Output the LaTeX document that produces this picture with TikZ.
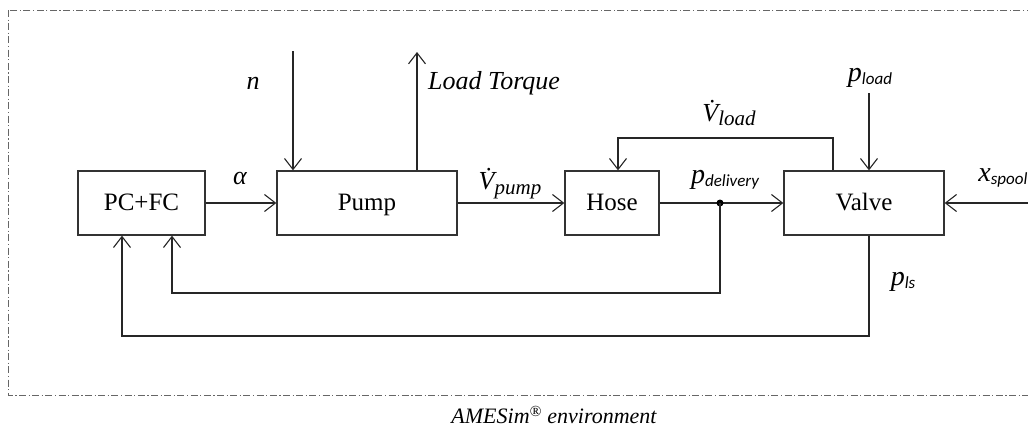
\documentclass[tikz,border=0pt]{standalone}
\usepackage{fontspec}
\setmainfont{Liberation Serif}
\setsansfont{Carlito}
\usetikzlibrary{arrows.meta}
\newcommand{\sublab}[2]{{\itshape #1}\raisebox{-0.25ex}{\sffamily\itshape\fontsize{17}{17}\selectfont #2}}
\newcommand{\flowlab}[1]{\.{V}\raisebox{-0.4ex}{\fontsize{21}{21}\selectfont #1}}
\tikzset{
  bdblock/.style={draw=black!80, line width=1.3pt, minimum height=64pt, inner sep=0pt, text height=18pt, text depth=4pt, font=\fontsize{25}{30}\selectfont},
  bdline/.style={line width=1.1pt, draw=black!85, -{Straight Barb[length=11pt,width=17pt,line width=1.1pt]}},
  bdframe/.style={line width=1pt, draw=black!60, dash pattern=on 7pt off 2.5pt on 1.2pt off 2.5pt},
  bdlabel/.style={inner sep=0pt, font=\fontsize{26}{30}\selectfont\itshape},
  bdsub/.style={inner sep=0pt, font=\fontsize{28}{30}\selectfont},
}

\begin{document}
\begin{tikzpicture}[x=1pt,y=-1pt]
\useasboundingbox (0,0) rectangle (1028,429);
\clip (0,0) rectangle (1028,429);
\draw[bdframe] (8,10) rectangle (1040,395);
\node[bdblock, minimum width=127pt] (pcfc) at (141.5,203) {PC+FC};
\node[bdblock, minimum width=180pt] (pump) at (367,203) {Pump};
\node[bdblock, minimum width=94pt] (hose) at (612,203) {Hose};
\node[bdblock, minimum width=160pt] (valve) at (864,203) {Valve};
\coordinate (junc) at (720,203);
\coordinate (nsrc) at (293,51);
\coordinate (tqend) at (417,52);
\coordinate (plsrc) at (869,93);
\coordinate (xssrc) at (1028,203);
\coordinate (vlv) at (833,138);
\coordinate (vlh) at (618,138);
\coordinate (fbin) at (172,293);
\coordinate (fbout) at (122,336);
\draw[bdline] (pcfc) -- (pump);
\draw[bdline] (pump) -- (hose);
\draw[bdline] (hose) -- (valve);
\fill (junc) circle (3.5pt);
\draw[bdline] (nsrc) -- (nsrc |- pump.north);
\draw[bdline] (tqend |- pump.north) -- (tqend);
\draw[bdline] (valve.north -| vlv) -- (vlv) -- (vlh) -- (hose.north -| vlh);
\draw[bdline] (plsrc) -- (plsrc |- valve.north);
\draw[bdline] (xssrc) -- (valve);
\draw[bdline] (junc) |- (fbin) -- (pcfc.south -| fbin);
\draw[bdline] (valve.south -| plsrc) |- (fbout) -- (pcfc.south -| fbout);
\node[bdlabel] (nlab) at (253,83) {n};
\node[bdlabel, anchor=west] (tqlab) at (428,83) {Load Torque};
\node[bdlabel] (alab) at (240,178) {α};
\node[bdlabel] (vplab) at (510,184) {\flowlab{pump}};
\node[bdlabel] (vllab) at (729,113) {\flowlab{load}};
\node[bdsub] (pllab) at (870,78) {\sublab{p}{load}};
\node[bdsub] (pdlab) at (725,180) {\sublab{p}{delivery}};
\node[bdsub] (xslab) at (1003,178) {\sublab{x}{spool}};
\node[bdsub] (plslab) at (903,282) {\sublab{p}{ls}};
\node[font=\fontsize{22}{26}\selectfont\itshape] (envlab) at (554,415) {AMESim\textsuperscript{\textregistered} environment};
\end{tikzpicture}
\end{document}
